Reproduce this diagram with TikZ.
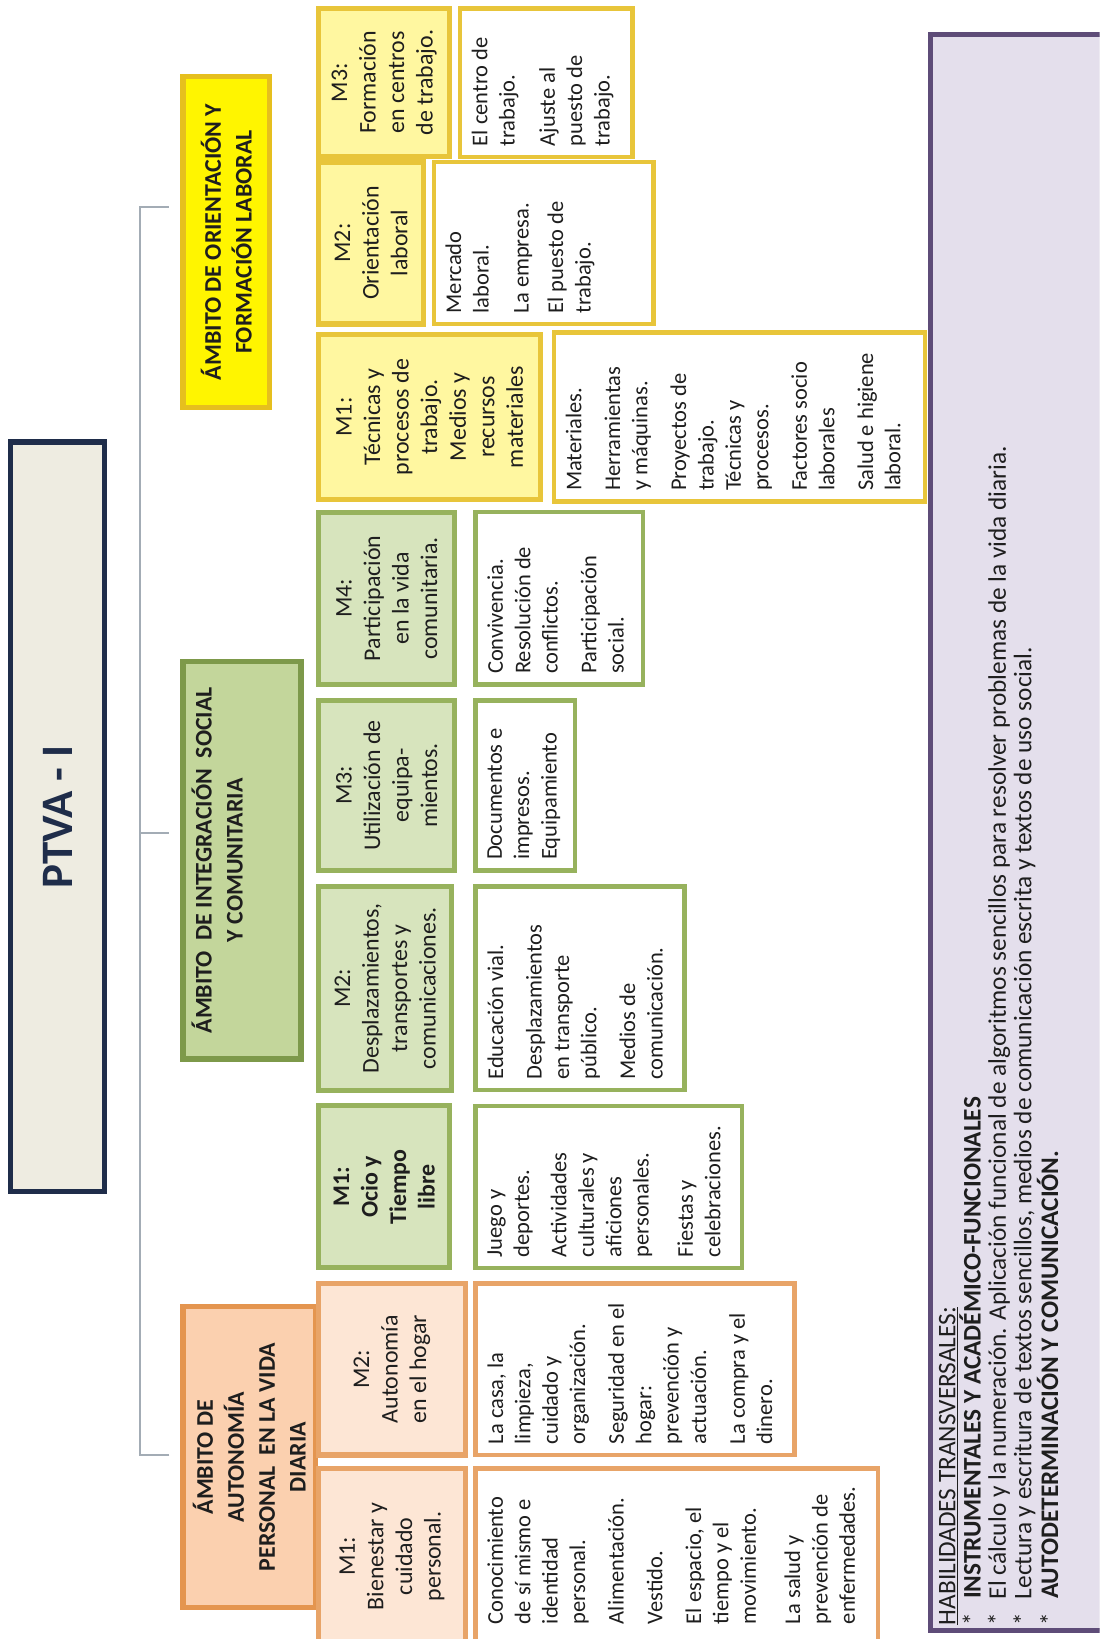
\documentclass[tikz,border=0pt]{standalone}
\usepackage{fontspec}
\setmainfont{Carlito}
\newdimen\pxu \pxu=0.02614cm
\definecolor{titleF}{HTML}{EEECE1}
\definecolor{titleD}{HTML}{1F2D4A}
\definecolor{connC}{HTML}{A3ACB5}
\definecolor{orAF}{HTML}{FBD0AF}
\definecolor{orAD}{HTML}{E4954F}
\definecolor{orMF}{HTML}{FDE6D5}
\definecolor{orMD}{HTML}{E8A468}
\definecolor{grAF}{HTML}{C3D69B}
\definecolor{grAD}{HTML}{7D994A}
\definecolor{grMF}{HTML}{D7E4BD}
\definecolor{grMD}{HTML}{97B25D}
\definecolor{yeAF}{HTML}{FFF500}
\definecolor{yeAD}{HTML}{E6BF1E}
\definecolor{yeMF}{HTML}{FFF7A0}
\definecolor{yeMD}{HTML}{E8C53A}
\definecolor{puF}{HTML}{E4DFEC}
\definecolor{puD}{HTML}{5E4C78}
\definecolor{txt}{HTML}{1E1E1E}
\newcommand\fmod{\fontsize{17}{20.3}\selectfont}
\newcommand\fcon{\fontsize{16}{19.5}\selectfont}
\newcommand\famb{\fontsize{17}{22}\selectfont\bfseries}
\newcommand\fpur{\fontsize{18}{18}\selectfont}
\newcommand\bxat[7]{\node[#1, minimum width={((#5)-(#3))*\pxu}, minimum height={((#6)-(#4))*\pxu}] (#2) at ({((#3)+(#5))/2},{-((#4)+(#6))/2}) {#7};}
\tikzset{
  bx/.style={draw, inner sep=0pt, outer sep=0pt, text=txt, align=center},
  ttl/.style={bx, draw=titleD, fill=titleF, line width=4pt, font=\fontsize{32}{36}\selectfont\bfseries, text=titleD},
  ambO/.style={bx, draw=orAD, fill=orAF, line width=3.8pt, font=\famb},
  ambG/.style={bx, draw=grAD, fill=grAF, line width=3.8pt, font=\famb},
  ambY/.style={bx, draw=yeAD, fill=yeAF, line width=3.8pt, font=\famb},
  modO/.style={bx, draw=orMD, fill=orMF, line width=3.6pt, font=\fmod},
  modG/.style={bx, draw=grMD, fill=grMF, line width=3.6pt, font=\fmod},
  modY/.style={bx, draw=yeMD, fill=yeMF, line width=3.6pt, font=\fmod},
  conO/.style={bx, draw=orMD, fill=white, line width=3.2pt},
  conG/.style={bx, draw=grMD, fill=white, line width=3.2pt},
  conY/.style={bx, draw=yeMD, fill=white, line width=3.2pt},
  ctext/.style={anchor=north west, inner sep=0pt, align=left, font=\fcon, text=txt},
  conn/.style={draw=connC, line width=1.2pt},
  purbox/.style={bx, draw=puD, fill=puF, line width=4pt},
  ptext/.style={anchor=north west, inner sep=0pt, align=left, font=\fpur, text=txt}
}
\begin{document}
\begin{tikzpicture}[x=\pxu, y=\pxu]
\useasboundingbox (0,0) rectangle (1052,1568);
\fill[white] (0,0) rectangle (1052,1568);
\begin{scope}
\clip (0,0) rectangle (1052,1568);
\begin{scope}[rotate=90, transform shape]
% title
\bxat{ttl}{title}{428}{10}{1145}{100}{PTVA - I}
% connectors
\coordinate (t1) at (176,-134);
\coordinate (e1) at (176,-162);
\coordinate (t2) at (771,-134);
\coordinate (e2) at (771,-162);
\coordinate (t3) at (1370,-134);
\coordinate (e3) at (1370,-162);
\draw[conn] (e1) -- (t1) -- (t3) -- (e3);
\draw[conn] (t2) -- (e2);
% ambitos
\bxat{ambO}{a1}{30}{175}{318}{302}{ÁMBITO DE\\AUTONOMÍA\\PERSONAL~ EN LA VIDA\\DIARIA}
\bxat{ambG}{a2}{555}{175}{935}{288}{}
\node[anchor=north, inner sep=0pt, align=center, font=\famb, text=txt] (a2t) at (745,-183) {ÁMBITO~ DE INTEGRACIÓN~ SOCIAL\\Y COMUNITARIA};
\bxat{ambY}{a3}{1178}{175}{1495}{258}{ÁMBITO DE ORIENTACIÓN Y\\FORMACIÓN LABORAL}
% modules
\bxat{modO}{om1}{-5}{305}{163}{445}{M1:\\Bienestar y\\cuidado\\personal.}
\bxat{modO}{om2}{176}{305}{340}{445}{M2:\\Autonomía\\en el hogar}
\bxat{modG,font=\fmod\bfseries}{gm1}{355}{305}{510}{430}{M1:\\Ocio y\\Tiempo\\libre}
\bxat{modG}{gm2}{525}{305}{720}{432}{M2:\\Desplazamientos,\\transportes y\\comunicaciones.}
\bxat{modG}{gm3}{735}{305}{898}{435}{M3:\\Utilización de\\equipa-\\mientos.}
\bxat{modG}{gm4}{913}{305}{1078}{435}{M4:\\Participación\\en la vida\\comunitaria.}
\bxat{modY}{ym1}{1090}{305}{1248}{517}{M1:\\Técnicas y\\procesos de\\trabajo.\\Medios y\\recursos\\materiales}
\bxat{modY}{ym2}{1258}{305}{1413}{405}{M2:\\Orientación\\laboral}
\bxat{modY}{ym3}{1418}{305}{1560}{430}{M3:\\Formación\\en centros\\de trabajo.}
% content boxes
\bxat{conO}{oc1}{-5}{455}{163}{840}{}
\bxat{conO}{oc2}{176}{455}{340}{760}{}
\bxat{conG}{gc1}{355}{455}{510}{710}{}
\bxat{conG}{gc2}{525}{455}{720}{655}{}
\bxat{conG}{gc3}{735}{455}{898}{550}{}
\bxat{conG}{gc4}{913}{455}{1078}{615}{}
\bxat{conY}{yc1}{1088}{530}{1250}{885}{}
\bxat{conY}{yc2}{1258}{415}{1413}{625}{}
\bxat{conY}{yc3}{1418}{440}{1560}{605}{}
% content texts
\node[ctext] (oc1t) at (14,-466) {Conocimiento\\de sí mismo e\\identidad\\personal.\\[8pt]Alimentación.\\[8pt]Vestido.\\[8pt]El espacio, el\\tiempo y el\\movimiento.\\[12pt]La salud y\\prevención de\\enfermedades.};
\node[ctext] (oc2t) at (186,-466) {La casa, la\\limpieza,\\cuidado y\\organización.\\[8pt]Seguridad en el\\hogar:\\prevención y\\actuación.\\[8pt]La compra y el\\dinero.};
\node[ctext] (gc1t) at (365,-466) {Juego y\\deportes.\\[7pt]Actividades\\culturales y\\aficiones\\personales.\\[12pt]Fiestas y\\celebraciones.};
\node[ctext] (gc2t) at (535,-466) {Educación vial.\\[8pt]Desplazamientos\\en transporte\\público.\\[8pt]Medios de\\comunicación.};
\node[ctext] (gc3t) at (745,-466) {Documentos e\\impresos.\\Equipamiento};
\node[ctext] (gc4t) at (923,-466) {Convivencia.\\Resolución de\\conflictos.\\[8pt]Participación\\social.};
\node[ctext] (yc1t) at (1098,-541) {Materiales.\\[8pt]Herramientas\\y máquinas.\\[8pt]Proyectos de\\trabajo.\\Técnicas y\\procesos.\\[8pt]Factores socio\\laborales\\[8pt]Salud e higiene\\laboral.};
\node[ctext] (yc2t) at (1268,-426) {Mercado\\laboral.\\[9pt]La empresa.\\[5pt]El puesto de\\trabajo.};
\node[ctext] (yc3t) at (1428,-451) {El centro de\\trabajo.\\[9pt]Ajuste al\\puesto de\\trabajo.};
% transversal box
\bxat{purbox}{pb}{8}{890}{1535}{1075}{}
\node[ptext] (pbt) at (13,-898) {\underline{HABILIDADES TRANSVERSALES:}\\
\makebox[25\pxu][l]{*}\textbf{INSTRUMENTALES Y ACADÉMICO-FUNCIONALES}\\
\makebox[25\pxu][l]{*}El cálculo y la numeración. Aplicación funcional de algoritmos sencillos para resolver problemas de la vida diaria.\\
\makebox[25\pxu][l]{*}Lectura y escritura de textos sencillos, medios de comunicación escrita y textos de uso social.\\
\makebox[25\pxu][l]{*}\textbf{AUTODETERMINACIÓN Y COMUNICACIÓN.}};
\end{scope}
\end{scope}
\end{tikzpicture}
\end{document}
